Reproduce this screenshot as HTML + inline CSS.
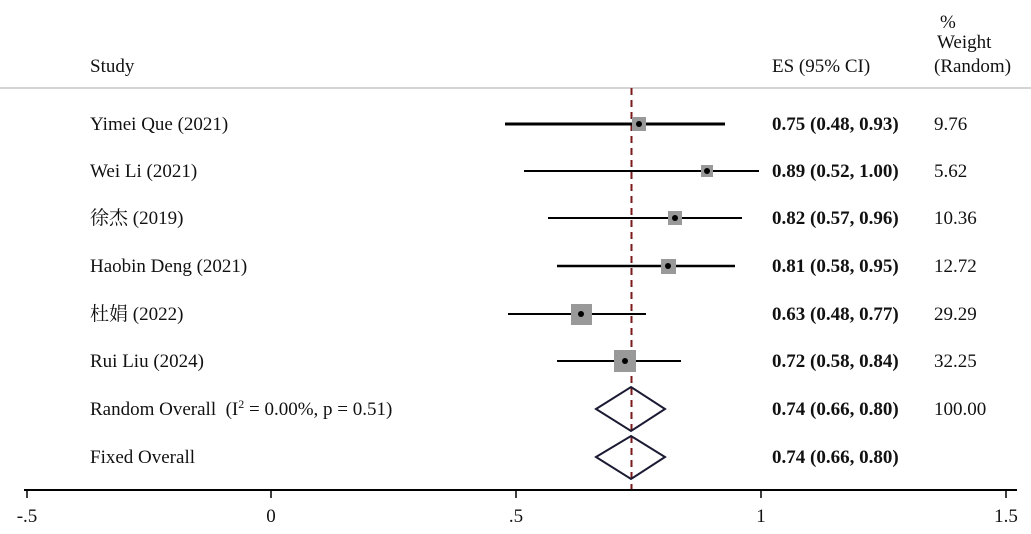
<!DOCTYPE html>
<html><head><meta charset="utf-8"><style>
body{margin:0;background:#fff}
svg text{font-family:"Liberation Serif","Noto Serif CJK SC",serif;font-size:19px;fill:#111}
.b{font-weight:bold}
</style></head><body>
<svg width="1031" height="529" xmlns="http://www.w3.org/2000/svg">
<text x="90" y="72">Study</text>
<text x="772" y="72">ES (95% CI)</text>
<text x="940" y="28">%</text>
<text x="937" y="48">Weight</text>
<text x="934" y="72">(Random)</text>
<line x1="0" y1="88" x2="1031" y2="88" stroke="#aaa" stroke-width="1"/>
<line x1="631.5" y1="88" x2="631.5" y2="490" stroke="#7a1a1a" stroke-width="2" stroke-dasharray="7,5"/>
<g stroke="#000">
<line x1="505" y1="124" x2="725" y2="124" stroke-width="3"/>
<line x1="524" y1="171" x2="759" y2="171" stroke-width="2"/>
<line x1="548" y1="218" x2="742" y2="218" stroke-width="2"/>
<line x1="557" y1="266" x2="735" y2="266" stroke-width="2.5"/>
<line x1="508" y1="314" x2="646" y2="314" stroke-width="2"/>
<line x1="557" y1="361" x2="681" y2="361" stroke-width="2"/>
</g>
<g fill="#999">
<rect x="632" y="117" width="14" height="14"/>
<rect x="701" y="165" width="12" height="12"/>
<rect x="668" y="211" width="14" height="14"/>
<rect x="661" y="259" width="15" height="15"/>
<rect x="571" y="304" width="21" height="21"/>
<rect x="614" y="350" width="22" height="22"/>
</g>
<g fill="#000">
<circle cx="639" cy="124" r="3"/><circle cx="707" cy="171" r="3"/><circle cx="675" cy="218" r="3"/>
<circle cx="668" cy="266" r="3"/><circle cx="581" cy="314" r="3"/><circle cx="625" cy="361" r="3"/>
</g>
<polygon points="596,409 631,387 665,409 631,431" fill="none" stroke="#1a1a33" stroke-width="2"/>
<polygon points="596,457 631,436 665,457 631,479" fill="none" stroke="#1a1a33" stroke-width="2"/>
<text x="90" y="130">Yimei Que (2021)</text>
<text x="90" y="177">Wei Li (2021)</text>
<text x="90" y="224">徐杰 (2019)</text>
<text x="90" y="272">Haobin Deng (2021)</text>
<text x="90" y="320">杜娟 (2022)</text>
<text x="90" y="367">Rui Liu (2024)</text>
<text x="90" y="415">Random Overall&#160;&#160;(I<tspan dy="-7" font-size="12">2</tspan><tspan dy="7"> = 0.00%, p = 0.51)</tspan></text>
<text x="90" y="463">Fixed Overall</text>
<text class="b" x="772" y="130">0.75 (0.48, 0.93)</text>
<text class="b" x="772" y="177">0.89 (0.52, 1.00)</text>
<text class="b" x="772" y="224">0.82 (0.57, 0.96)</text>
<text class="b" x="772" y="272">0.81 (0.58, 0.95)</text>
<text class="b" x="772" y="320">0.63 (0.48, 0.77)</text>
<text class="b" x="772" y="367">0.72 (0.58, 0.84)</text>
<text class="b" x="772" y="415">0.74 (0.66, 0.80)</text>
<text class="b" x="772" y="463">0.74 (0.66, 0.80)</text>
<text x="934" y="130">9.76</text>
<text x="934" y="177">5.62</text>
<text x="934" y="224">10.36</text>
<text x="934" y="272">12.72</text>
<text x="934" y="320">29.29</text>
<text x="934" y="367">32.25</text>
<text x="934" y="415">100.00</text>
<line x1="24" y1="490" x2="1017" y2="490" stroke="#000" stroke-width="2"/>
<g stroke="#000" stroke-width="1.5">
<line x1="27" y1="490" x2="27" y2="498"/><line x1="271" y1="490" x2="271" y2="498"/>
<line x1="516" y1="490" x2="516" y2="498"/><line x1="761" y1="490" x2="761" y2="498"/>
<line x1="1006" y1="490" x2="1006" y2="498"/>
</g>
<g text-anchor="middle">
<text x="27" y="522">-.5</text><text x="271" y="522">0</text><text x="516" y="522">.5</text>
<text x="761" y="522">1</text><text x="1006" y="522">1.5</text>
</g>
</svg>
</body></html>
